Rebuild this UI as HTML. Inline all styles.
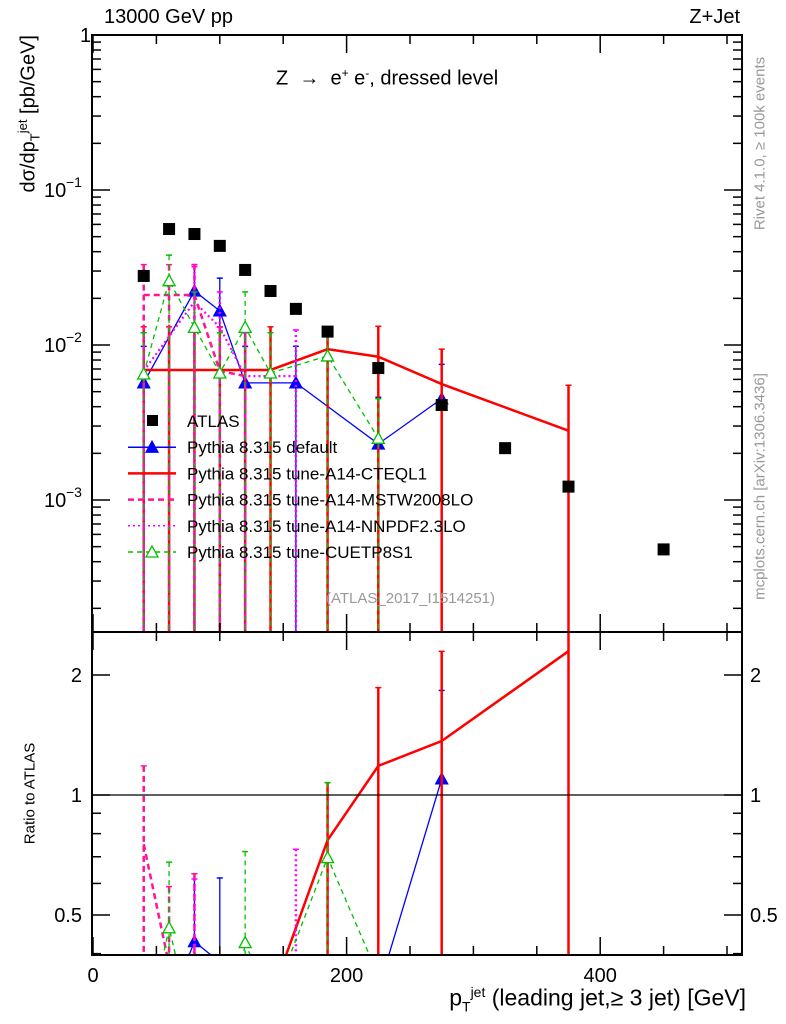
<!DOCTYPE html>
<html><head><meta charset="utf-8"><style>
html,body{margin:0;background:#fff;width:786px;height:1024px;overflow:hidden;}
svg{display:block;font-family:"Liberation Sans",sans-serif;}
</style></head><body>
<div style="position:relative;width:786px;height:1024px;overflow:hidden;">
<svg id="c" width="786" height="1024" xmlns="http://www.w3.org/2000/svg">
<defs><clipPath id="cm"><rect x="92" y="35" width="650" height="597"/></clipPath>
<clipPath id="cr"><rect x="92" y="632" width="650" height="323"/></clipPath></defs>
<g id="main" clip-path="url(#cm)"></g>
<g id="ratio" clip-path="url(#cr)"></g>
<g id="axes"></g>
</svg>
<div style="position:absolute;left:0;top:0;width:786px;height:1024px;pointer-events:none;font-family:'Liberation Sans',sans-serif;">
<div style="position:absolute;left:104px;top:6px;font-size:20px;">13000 GeV pp</div>
<div style="position:absolute;right:46px;top:6px;font-size:20px;">Z+Jet</div>
<div style="position:absolute;left:276px;top:66px;font-size:20px;">Z &nbsp;→ &nbsp;e<sup style="font-size:12px">+</sup> e<sup style="font-size:12px">-</sup>, dressed level</div>
<div style="position:absolute;left:326px;top:590px;font-size:15px;color:#999;">(ATLAS_2017_I1514251)</div>
<div style="position:absolute;left:-100px;top:150px;width:260px;height:30px;transform:rotate(-90deg);font-size:20px;text-align:right;white-space:nowrap;">dσ/dp<sub style="font-size:13px">T</sub><sup style="font-size:13px">jet</sup> [pb/GeV]</div>
<div style="position:absolute;left:-30px;top:785px;width:120px;transform:rotate(-90deg);font-size:15px;text-align:center;">Ratio to ATLAS</div>
<div style="position:absolute;right:40px;top:984px;font-size:23px;white-space:nowrap;">p<sub style="font-size:14px">T</sub><sup style="font-size:14px">jet</sup> (leading jet,≥ 3 jet) [GeV]</div>
<div style="position:absolute;left:650px;top:135px;width:220px;transform:rotate(-90deg);font-size:15px;color:#999;text-align:center;">Rivet 4.1.0, ≥ 100k events</div>
<div style="position:absolute;left:620px;top:478px;width:280px;transform:rotate(-90deg);font-size:15px;color:#999;text-align:center;">mcplots.cern.ch [arXiv:1306.3436]</div>
</div>
</div>
<script>
const xs=[40,60,80,100,120,140,160,185,225,275,325,375,450];
const atlas=[0.0279,0.056,0.052,0.0436,0.0305,0.0223,0.0171,0.0122,0.0071,0.0041,0.00216,0.00122,0.00048];
const defX=[40,80,100,120,160,225,275];
const defY=[0.0057,0.0223,0.0166,0.0057,0.0057,0.0023,0.0045];
const defHi=[0.0098,0.033,0.027,0.0098,0.0098,0.0046,0.0075];
const ctqX=[40,60,80,100,120,140,185,225,275,375];
const ctqY=[0.0069,0.0069,0.0069,0.0069,0.0069,0.0069,0.0094,0.0084,0.0056,0.0028];
const ctqHi=[0.0131,0.0131,0.0131,0.0131,0.0131,0.0131,0.0131,0.0132,0.0094,0.0055];
const mstX=[40,60,80,100,120];
const mstY=[0.021,0.021,0.021,0.0068,0.0063];
const mstHi=[0.033,0.033,0.033,0.013,0.012];
const nnX=[40,80,100,120,160];
const nnY=[0.0068,0.019,0.013,0.0063,0.0063];
const nnHi=[0.012,0.032,0.022,0.012,0.0125];
const cuX=[40,60,80,100,120,140,185,225];
const cuY=[0.0065,0.026,0.013,0.0066,0.013,0.0066,0.0085,0.0025];
const cuHi=[0.012,0.038,0.022,0.012,0.022,0.012,0.0131,0.0045];
const ratioXTicks=[0,200,400];
const NS="http://www.w3.org/2000/svg";
const X=v=>93+v*1.268;
const Y=v=>35-155*Math.log10(v);
const R=v=>795-120*Math.log2(v);
function mk(p,t,a){const e=document.createElementNS(NS,t);for(const k in a)e.setAttribute(k,a[k]);p.appendChild(e);return e;}
const gm=document.getElementById('main'),gr=document.getElementById('ratio'),ga=document.getElementById('axes');
function atl(x){return atlas[xs.indexOf(x)];}
const series=[
 {n:'default',x:defX,y:defY,hi:defHi,c:'#0000ff',w:1.3,d:'',m:'tri-fill'},
 {n:'cteql1',x:ctqX,y:ctqY,hi:ctqHi,c:'#ff0000',w:2.5,d:'',m:''},
 {n:'mstw',x:mstX,y:mstY,hi:mstHi,c:'#ff1493',w:2.5,d:'6,4',m:''},
 {n:'nnpdf',x:nnX,y:nnY,hi:nnHi,c:'#ff00ff',w:2.2,d:'2,3',m:''},
 {n:'cuetp8s1',x:cuX,y:cuY,hi:cuHi,c:'#00c000',w:1.3,d:'5,4',m:'tri-open'}];
function tri(g,x,y,c,fill){return mk(g,'path',{d:`M${x},${y-6}L${x+6},${y+5}L${x-6},${y+5}Z`,fill:fill?c:'#fff',stroke:c,'stroke-width':1.3});}
series.forEach(s=>{
 let gg=mk(gm,'g',{});
 
 
 s.x.forEach((x,i)=>{const l=mk(gg,'line',{x1:X(x),x2:X(x),y1:Y(s.hi[i]),y2:640,stroke:s.c,'stroke-width':s.w>2?2.5:1.3,'stroke-dasharray':s.d});
  
  
  mk(gg,'line',{x1:X(x)-3,x2:X(x)+3,y1:Y(s.hi[i]),y2:Y(s.hi[i]),stroke:s.c,'stroke-width':1.5});});
 const pl=mk(gg,'polyline',{points:s.x.map((x,i)=>X(x)+','+Y(s.y[i])).join(' '),fill:'none',stroke:s.c,'stroke-width':s.w,'stroke-dasharray':s.d});
 
 
 if(s.m)s.x.forEach((x,i)=>{const t=tri(gg,X(x),Y(s.y[i]),s.c,s.m==='tri-fill');});
 let rg=mk(gr,'g',{});
 
 
 const rv=s.x.map((x,i)=>Math.max(s.y[i]/atl(x),0.05));
 s.x.forEach((x,i)=>{const r=s.hi[i]/atl(x);if(rv[i]>0.36){mk(rg,'line',{x1:X(x),x2:X(x),y1:R(r),y2:970,stroke:s.c,'stroke-width':s.w>2?2.5:1.3,'stroke-dasharray':s.d});mk(rg,'line',{x1:X(x)-3,x2:X(x)+3,y1:R(r),y2:R(r),stroke:s.c,'stroke-width':1.5});}});
 const rl=mk(rg,'polyline',{points:s.x.map((x,i)=>X(x)+','+R(rv[i])).join(' '),fill:'none',stroke:s.c,'stroke-width':s.w,'stroke-dasharray':s.d});
 
 
 if(s.m)s.x.forEach((x,i)=>tri(rg,X(x),R(rv[i]),s.c,s.m==='tri-fill'));
});
xs.forEach((x,i)=>{const r=mk(gm,'rect',{x:X(x)-6,y:Y(atlas[i])-6,width:12,height:12,fill:'#000'});
 
 });
mk(gr,'line',{x1:92,x2:742,y1:R(1),y2:R(1),stroke:'#000','stroke-width':1.2});
mk(ga,'rect',{x:92,y:35,width:650,height:597,fill:'none',stroke:'#000','stroke-width':2});
mk(ga,'rect',{x:92,y:632,width:650,height:323,fill:'none',stroke:'#000','stroke-width':2});
for(let d=0;d>=-4;d--)for(let k=1;k<10;k++){const v=k*Math.pow(10,d);const y=Y(v);if(y<35||y>632)continue;const L=k===1?18:9;
 mk(ga,'line',{x1:92,x2:92+L,y1:y,y2:y,stroke:'#000','stroke-width':1.5});mk(ga,'line',{x1:742,x2:742-L,y1:y,y2:y,stroke:'#000','stroke-width':1.5});}
[[0,'1'],[-1,'10'],[-2,'10'],[-3,'10']].forEach(([d,t])=>{const tx=mk(ga,'text',{x:d===0?80:44,y:Y(Math.pow(10,d))+7,'font-size':20});tx.textContent=t;
 
 if(d<0){const s=mk(ga,'text',{x:66,y:Y(Math.pow(10,d))-3,'font-size':14});s.textContent=String(d).replace('-','−');}});
[0.4,0.5,0.6,0.7,0.8,0.9,1,2].forEach(v=>{const y=R(v);if(y>955)return;const L=(v===1||v===2||v===0.5)?18:9;
 mk(ga,'line',{x1:92,x2:92+L,y1:y,y2:y,stroke:'#000','stroke-width':1.5});mk(ga,'line',{x1:742,x2:742-L,y1:y,y2:y,stroke:'#000','stroke-width':1.5});});
[[2,'2'],[1,'1'],[0.5,'0.5']].forEach(([v,t])=>{const a=mk(ga,'text',{x:82,y:R(v)+7,'font-size':20,'text-anchor':'end'});a.textContent=t;
 const b=mk(ga,'text',{x:750,y:R(v)+7,'font-size':20});b.textContent=t;});
for(let v=0;v<=500;v+=50){const L=v%200===0?18:9;const x=X(v);
 [[35,1],[632,-1],[632,1],[955,-1]].forEach(([y,s])=>mk(ga,'line',{x1:x,x2:x,y1:y,y2:y+s*L,stroke:'#000','stroke-width':1.5}));}
ratioXTicks.forEach(v=>{const t=mk(ga,'text',{x:X(v),y:982,'font-size':20,'text-anchor':'middle'});t.textContent=v;
 });
const leg=[['ATLAS','#000',''],['Pythia 8.315 default','#0000ff',''],['Pythia 8.315 tune-A14-CTEQL1','#ff0000',''],['Pythia 8.315 tune-A14-MSTW2008LO','#ff1493','6,4'],['Pythia 8.315 tune-A14-NNPDF2.3LO','#ff00ff','2,3'],['Pythia 8.315 tune-CUETP8S1','#00c000','5,4']];
leg.forEach((e,i)=>{const y=421+26.2*i;const g=mk(ga,'g',{});
 
 
 if(i===0)mk(g,'rect',{x:147,y:y-6,width:11,height:11,fill:'#000'});
 else{mk(g,'line',{x1:128,x2:176,y1:y,y2:y,stroke:e[1],'stroke-width':i===2||i===3?2.5:1.5,'stroke-dasharray':e[2]});
  if(i===1)tri(g,152,y,e[1],true);if(i===5)tri(g,152,y,e[1],false);}
 const t=mk(g,'text',{x:187,y:y+6,'font-size':17});t.textContent=e[0];});
</script>
</body></html>
